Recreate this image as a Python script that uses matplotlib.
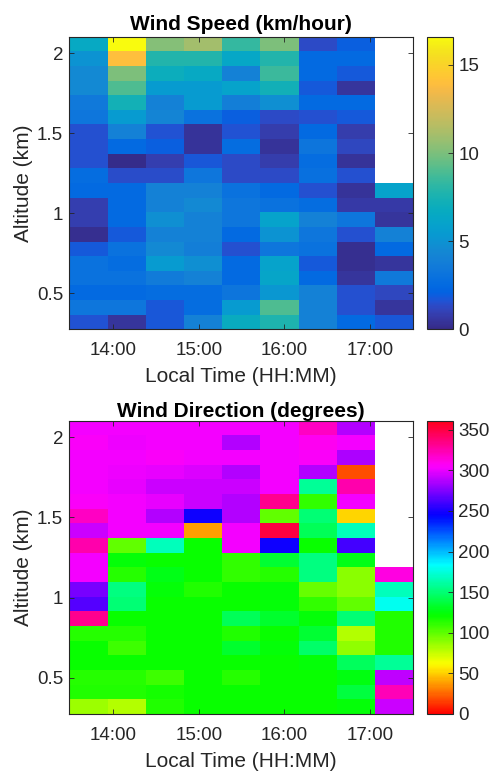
import numpy as np
import matplotlib
matplotlib.use("Agg")
import matplotlib.pyplot as plt
from matplotlib.colors import LinearSegmentedColormap
from matplotlib.ticker import FixedLocator, FuncFormatter

plt.rcParams['font.family'] = ['Liberation Sans', 'DejaVu Sans']

# ---------------- data ----------------
# column centre times (hours, local time)
time_h = [13.707, 14.154, 14.601, 15.048, 15.495, 15.942, 16.389, 16.836, 17.283]
# row centre altitudes (km), top row first
alt_km = [2.057, 1.966, 1.875, 1.783, 1.692, 1.600, 1.509, 1.417, 1.326, 1.234,
          1.143, 1.052, 0.960, 0.869, 0.777, 0.686, 0.594, 0.503, 0.411, 0.320]

nan = np.nan
# wind speed (km/hour), rows top -> bottom, columns by time
speed = [
    [6.5, 16.6, 10.2, 11.0, 8.3, 10.0, 1.3, 2.0, nan],
    [5.0, 14.0, 7.8, 7.8, 6.3, 7.8, 2.5, 2.5, nan],
    [4.5, 10.0, 7.0, 6.5, 4.0, 8.5, 2.5, 1.8, nan],
    [4.5, 9.0, 5.5, 5.5, 6.0, 7.2, 1.8, 0.5, nan],
    [3.5, 7.3, 4.0, 5.5, 3.8, 4.8, 2.5, 2.5, nan],
    [3.3, 5.5, 4.2, 3.0, 2.0, 1.3, 1.5, 1.8, nan],
    [1.5, 4.0, 1.6, 0.4, 1.6, 0.8, 2.5, 0.8, nan],
    [1.5, 2.5, 2.0, 0.4, 2.7, 0.4, 3.2, 1.2, nan],
    [1.5, 0.1, 0.9, 1.7, 1.3, 0.8, 2.7, 0.4, nan],
    [2.7, 1.4, 1.4, 3.3, 1.3, 1.3, 2.9, 1.5, nan],
    [2.5, 2.5, 4.0, 4.0, 3.0, 2.5, 1.5, 0.4, 6.0],
    [0.9, 2.5, 4.0, 4.5, 3.3, 3.0, 2.7, 0.7, 0.7],
    [0.9, 2.5, 4.8, 4.0, 3.3, 6.0, 4.0, 3.3, 0.5],
    [0.2, 1.8, 4.0, 4.0, 2.5, 5.0, 3.3, 1.5, 4.0],
    [1.8, 3.0, 4.5, 3.8, 1.5, 3.3, 3.0, 0.2, 2.5],
    [3.0, 2.7, 5.5, 4.8, 2.5, 6.0, 1.8, 0.2, 0.5],
    [3.0, 3.0, 3.6, 4.0, 2.5, 6.2, 2.5, 0.5, 3.5],
    [2.5, 2.5, 2.7, 2.7, 3.2, 5.2, 4.0, 1.5, 1.2],
    [3.3, 3.3, 1.7, 2.7, 5.5, 9.0, 4.0, 1.5, 0.5],
    [1.6, 0.5, 1.7, 4.0, 6.8, 7.7, 4.0, 2.5, 1.7],
]

# wind direction (degrees), rows top -> bottom
direction = [
    [303, 303, 303, 303, 302, 303, 320, 287, nan],
    [305, 301, 303, 303, 287, 303, 308, 303, nan],
    [302, 302, 305, 303, 303, 303, 305, 285, nan],
    [302, 301, 300, 297, 287, 303, 287, 19, nan],
    [302, 300, 292, 292, 292, 303, 158, 325, nan],
    [305, 302, 300, 292, 287, 332, 110, 303, nan],
    [320, 302, 287, 247, 287, 100, 150, 51, nan],
    [292, 302, 302, 39, 302, 351, 143, 167, nan],
    [325, 100, 167, 120, 302, 247, 120, 260, nan],
    [303, 123, 121, 120, 110, 135, 153, 128, nan],
    [303, 113, 128, 121, 110, 113, 153, 90, 313],
    [273, 153, 124, 115, 120, 124, 98, 90, 167],
    [264, 150, 120, 121, 120, 124, 110, 100, 180],
    [332, 120, 120, 120, 143, 133, 124, 150, 115],
    [113, 113, 120, 120, 115, 121, 135, 80, 115],
    [121, 108, 120, 120, 133, 124, 148, 88, 115],
    [120, 120, 120, 121, 121, 121, 124, 145, 158],
    [113, 113, 108, 120, 113, 120, 120, 126, 290],
    [115, 115, 118, 120, 120, 120, 120, 138, 322],
    [85, 79, 115, 120, 120, 120, 120, 124, 292],
]

x_ticks = [14, 15, 16, 17]
y_ticks = [0.5, 1.0, 1.5, 2.0]
speed_ticks = [0, 5, 10, 15]
dir_ticks = [0, 50, 100, 150, 200, 250, 300, 350]

# ---------------- colormap (parula) ----------------
parula_list = [
    [0.2081, 0.1663, 0.5292], [0.2116, 0.1898, 0.5777], [0.2123, 0.2138, 0.6270], [0.2081, 0.2386, 0.6771],
    [0.1959, 0.2645, 0.7279], [0.1707, 0.2919, 0.7792], [0.1253, 0.3242, 0.8303], [0.0591, 0.3598, 0.8683],
    [0.0117, 0.3875, 0.8820], [0.0060, 0.4086, 0.8828], [0.0165, 0.4266, 0.8786], [0.0329, 0.4430, 0.8720],
    [0.0498, 0.4586, 0.8641], [0.0629, 0.4737, 0.8554], [0.0723, 0.4887, 0.8467], [0.0779, 0.5040, 0.8384],
    [0.0793, 0.5200, 0.8312], [0.0749, 0.5375, 0.8263], [0.0641, 0.5570, 0.8240], [0.0488, 0.5772, 0.8228],
    [0.0343, 0.5966, 0.8199], [0.0265, 0.6137, 0.8135], [0.0239, 0.6287, 0.8038], [0.0231, 0.6418, 0.7913],
    [0.0228, 0.6535, 0.7768], [0.0267, 0.6642, 0.7607], [0.0384, 0.6743, 0.7436], [0.0590, 0.6838, 0.7254],
    [0.0843, 0.6928, 0.7062], [0.1133, 0.7015, 0.6859], [0.1453, 0.7098, 0.6646], [0.1801, 0.7177, 0.6424],
    [0.2178, 0.7250, 0.6193], [0.2586, 0.7317, 0.5954], [0.3022, 0.7376, 0.5712], [0.3482, 0.7424, 0.5473],
    [0.3953, 0.7459, 0.5244], [0.4420, 0.7481, 0.5033], [0.4871, 0.7491, 0.4840], [0.5300, 0.7491, 0.4661],
    [0.5709, 0.7485, 0.4494], [0.6099, 0.7473, 0.4337], [0.6473, 0.7456, 0.4188], [0.6834, 0.7435, 0.4044],
    [0.7184, 0.7411, 0.3905], [0.7525, 0.7384, 0.3768], [0.7858, 0.7356, 0.3633], [0.8185, 0.7327, 0.3498],
    [0.8507, 0.7299, 0.3360], [0.8824, 0.7274, 0.3217], [0.9139, 0.7258, 0.3063], [0.9450, 0.7261, 0.2886],
    [0.9739, 0.7314, 0.2666], [0.9938, 0.7455, 0.2403], [0.9990, 0.7653, 0.2164], [0.9955, 0.7861, 0.1967],
    [0.9880, 0.8066, 0.1794], [0.9789, 0.8271, 0.1633], [0.9697, 0.8481, 0.1475], [0.9626, 0.8705, 0.1309],
    [0.9589, 0.8949, 0.1132], [0.9598, 0.9218, 0.0948], [0.9661, 0.9514, 0.0755], [0.9763, 0.9831, 0.0538],
]
parula = LinearSegmentedColormap.from_list("parula", parula_list, N=256)
parula.set_bad("white")
hsv = plt.get_cmap("hsv").copy()
hsv.set_bad("white")

# ---------------- figure ----------------
W, H = 491, 771
fig = plt.figure(figsize=(W / 100, H / 100), dpi=100)
TXT = (0.15, 0.15, 0.15)
TICK_FS = 13.5
LABEL_FS = 15
TITLE_FS = 15

def px_rect(left, top, right, bottom):
    return [left / W, 1 - bottom / H, (right - left) / W, (bottom - top) / H]

panels = [
    dict(data=speed, cmap=parula, vmin=0, vmax=16.6, title="Wind Speed (km/hour)", tpad=5,
         ax=px_rect(69.3, 36.7, 413.3, 329.3), cax=px_rect(427.3, 36.7, 452.7, 329.3), cticks=speed_ticks),
    dict(data=direction, cmap=hsv, vmin=0, vmax=361, title="Wind Direction (degrees)", tpad=3,
         ax=px_rect(69.3, 420.7, 413.3, 714.0), cax=px_rect(427.3, 420.7, 452.7, 714.0), cticks=dir_ticks),
]

X = np.array(time_h)
Y = np.array(alt_km)[::-1]

for p in panels:
    ax = fig.add_axes(p["ax"])
    Z = np.ma.masked_invalid(np.array(p["data"], dtype=float)[::-1])
    m = ax.pcolormesh(X, Y, Z, cmap=p["cmap"], vmin=p["vmin"], vmax=p["vmax"], shading="nearest")
    ax.set_xlim(13.4835, 17.5065)
    ax.set_ylim(0.2745, 2.1027)
    ax.xaxis.set_major_locator(FixedLocator(x_ticks))
    ax.xaxis.set_major_formatter(FuncFormatter(lambda v, pos: f"{int(round(v)):02d}:00"))
    ax.yaxis.set_major_locator(FixedLocator(y_ticks))
    ax.yaxis.set_major_formatter(FuncFormatter(lambda v, pos: f"{v:g}"))
    ax.tick_params(direction="in", length=3.5, width=0.6, colors=TXT, labelsize=TICK_FS,
                   top=True, right=True)
    ax.tick_params(axis="x", pad=9)
    ax.tick_params(axis="y", pad=4.5)
    for s in ax.spines.values():
        s.set_color(TXT)
        s.set_linewidth(0.8)
    ax.set_xlabel("Local Time (HH:MM)", fontsize=LABEL_FS, color=TXT, labelpad=6)
    ax.set_ylabel("Altitude (km)", fontsize=LABEL_FS, color=TXT, labelpad=3)
    ax.set_title(p["title"], fontsize=TITLE_FS, fontweight="bold", color="black", pad=p["tpad"])

    cax = fig.add_axes(p["cax"])
    cb = fig.colorbar(m, cax=cax, ticks=p["cticks"])
    cb.outline.set_edgecolor(TXT)
    cb.outline.set_linewidth(0.8)
    cax.tick_params(direction="in", length=3.5, width=0.6, colors=TXT, labelsize=TICK_FS, pad=4)

fig.savefig("out.png", dpi=100)
